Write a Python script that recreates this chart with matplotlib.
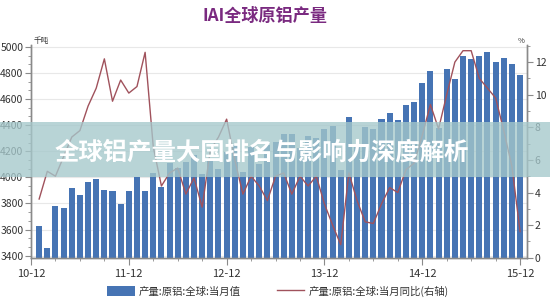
import numpy as np
import matplotlib
matplotlib.use("Agg")
import matplotlib.pyplot as plt
from matplotlib.patches import Rectangle, Patch
from matplotlib.lines import Line2D
from matplotlib.ticker import MultipleLocator, FixedLocator

plt.rcParams['font.family'] = ['Noto Sans CJK SC', 'DejaVu Sans']

# monthly primary aluminium output, thousand tonnes, 2011-01 .. 2015-12
output = [3630, 3459, 3783, 3762, 3916, 3865, 3967, 3988, 3906, 3893, 3796, 3893,
          4005, 3893, 4034, 3924, 4110, 4070, 4115, 4170, 4027, 4135, 4065, 4195,
          4250, 4040, 4236, 4100, 4247, 4267, 4330, 4332, 4228, 4320, 4300, 4370,
          4392, 4057, 4465, 4255, 4383, 4371, 4448, 4490, 4440, 4557, 4580, 4720,
          4812, 4378, 4831, 4754, 4927, 4907, 4927, 4958, 4881, 4912, 4869, 4785]
# year-on-year change, %
yoy = [3.6, 5.3, 5.0, 6.2, 7.4, 7.8, 9.3, 10.4, 12.2, 9.6, 10.9, 10.1,
       10.5, 12.6, 6.8, 4.4, 5.2, 5.5, 3.9, 4.9, 3.1, 6.6, 7.4, 8.5,
       6.0, 3.9, 5.0, 4.4, 3.5, 5.0, 5.2, 3.9, 5.0, 4.4, 5.0, 3.3,
       2.0, 0.8, 5.2, 3.5, 2.2, 2.1, 3.3, 4.3, 4.0, 5.4, 5.8, 7.5,
       9.4, 7.9, 10.0, 12.0, 12.7, 12.7, 11.0, 10.4, 9.8, 7.8, 5.6, 1.6]
year_labels = ['10-12', '11-12', '12-12', '13-12', '14-12', '15-12']
bar_label = '产量:原铝:全球:当月值'
line_label = '产量:原铝:全球:当月同比(右轴)'

bar_color = '#4674b4'
line_color = '#a0525c'
axis_color = '#8a8a8a'
text_color = '#333333'

months = np.arange(1, len(output) + 1)

fig = plt.figure(figsize=(5.5, 3), dpi=100)
ax = fig.add_axes([31 / 550, 1 - 257.7 / 300, 496 / 550, 213.2 / 300])
ax2 = ax.twinx()

ax.bar(months, output, width=0.74, color=bar_color, zorder=2)
ax2.plot(months, yoy, color=line_color, lw=1.0, zorder=3)

ax.set_xlim(0, 60.85)
ax.set_ylim(3384, 5018)
ax2.set_ylim(0, 13.08)

ax.yaxis.set_major_locator(MultipleLocator(200))
ax.yaxis.set_minor_locator(MultipleLocator(200 / 3))
ax.set_yticks(np.arange(3400, 5001, 200))
ax2.yaxis.set_major_locator(MultipleLocator(2))
ax2.yaxis.set_minor_locator(MultipleLocator(1))

ax.xaxis.set_major_locator(FixedLocator(np.arange(0, 61, 12)))
ax.set_xticklabels(year_labels)
ax.xaxis.set_minor_locator(FixedLocator(np.arange(0, 61, 3)))

ax.grid(axis='y', color='#e8e8e8', lw=0.8, zorder=0)
ax.set_axisbelow(True)

for a in (ax, ax2):
    a.spines['top'].set_visible(False)
    for s in ('left', 'right', 'bottom'):
        a.spines[s].set_color(axis_color)
        a.spines[s].set_linewidth(1.0)
    a.tick_params(which='both', colors=axis_color, labelcolor=text_color, labelsize=7.5)
    a.tick_params(which='major', length=4, pad=1.5)
    a.tick_params(which='minor', length=2.5)
ax.tick_params(axis='x', which='major', length=5, pad=3, labelsize=8)

fig.text(34 / 550, 1 - 41 / 300, '千吨', fontsize=5.5, color=text_color, va='center')
fig.text(518 / 550, 1 - 41 / 300, '%', fontsize=5.5, color=text_color, va='center')

fig.text(265 / 550, 1 - 16 / 300, 'IAI全球原铝产量', fontsize=12.3, fontweight='bold',
         color='#7a2a80', ha='center', va='center')

handles = [Patch(facecolor=bar_color, edgecolor='none'),
           Line2D([0], [0], color=line_color, lw=1.0)]
fig.legend(handles, [bar_label, line_label], loc='center', ncol=2,
           bbox_to_anchor=(278 / 550, 1 - 291 / 300), frameon=False,
           fontsize=7.5, handlelength=2.6, handleheight=1.0, columnspacing=3.5,
           handletextpad=0.4, labelcolor=text_color)

# translucent banner across the middle of the picture
fig.patches.append(Rectangle((0, 1 - 177.3 / 300), 1, 55.6 / 300, transform=fig.transFigure,
                             facecolor='#a5c8cb', alpha=0.78, edgecolor='none', zorder=10))
fig.text(262 / 550, 1 - 152 / 300, '全球铝产量大国排名与影响力深度解析', fontsize=17.6,
         fontweight='bold', color='white', ha='center', va='center', zorder=11)

fig.savefig('out.png', dpi=100)
